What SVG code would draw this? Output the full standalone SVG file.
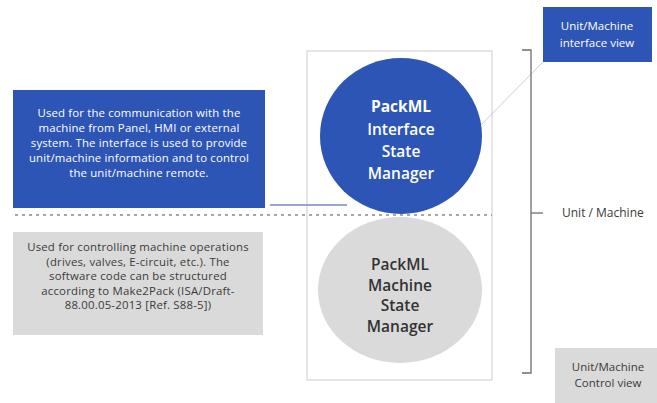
<svg xmlns="http://www.w3.org/2000/svg" width="657" height="403" viewBox="0 0 657 403">
<style>
text{font-family:"Open Sans","Liberation Sans",sans-serif;text-anchor:middle}
.bt{fill:#ffffff;font-size:11.4px;letter-spacing:0.15px}
.gt{fill:#3a3a3a;font-size:11.4px;letter-spacing:0.2px}
.ct{font-size:15.5px;font-weight:600}
.lbl{font-size:11.5px}
.blue{fill:#2d55b5}
.gray{fill:#dadada}
</style>
<rect width="657" height="403" fill="#ffffff"/>
<g id="frame">
<rect x="307" y="51" width="185" height="329" fill="none" stroke="#cccccc" stroke-width="1"/>
</g>
<g id="connectors">
<line x1="15" y1="215" x2="492" y2="215" stroke="#8a8a8a" stroke-width="1.6" stroke-dasharray="3,4"/>
<line x1="270" y1="205" x2="347" y2="205" stroke="#8085c4" stroke-width="1.5"/>
<line x1="543" y1="62" x2="476" y2="130" stroke="#c8cde0" stroke-width="1"/>
<path d="M522,50 H531 V373 H522" fill="none" stroke="#6e6e6e" stroke-width="1.3"/>
<line x1="531" y1="213" x2="543" y2="213" stroke="#6e6e6e" stroke-width="1.3"/>
</g>
<g id="interface-desc">
<rect class="blue" x="13" y="90" width="252" height="118"/>
<text class="bt" x="139" y="117">Used for the communication with the</text>
<text class="bt" x="139" y="132">machine from Panel, HMI or external</text>
<text class="bt" x="139" y="147">system. The interface is used to provide</text>
<text class="bt" x="139" y="162">unit/machine information and to control</text>
<text class="bt" x="139" y="177">the unit/machine remote.</text>
</g>
<g id="control-desc">
<rect class="gray" x="13" y="232" width="250" height="103"/>
<text class="gt" x="138" y="251">Used for controlling machine operations</text>
<text class="gt" x="138" y="265.5">(drives, valves, E-circuit, etc.). The</text>
<text class="gt" x="138" y="280">software code can be structured</text>
<text class="gt" x="138" y="294.5">according to Make2Pack (ISA/Draft-</text>
<text class="gt" x="138" y="309">88.00.05-2013 [Ref. S88-5])</text>
</g>
<g id="interface-sm">
<ellipse class="blue" cx="401" cy="136" rx="81" ry="78"/>
<text class="ct" fill="#ffffff" x="401" y="112" style="font-weight:bold">PackML</text>
<text class="ct" fill="#ffffff" x="401" y="135">Interface</text>
<text class="ct" fill="#ffffff" x="401" y="157">State</text>
<text class="ct" fill="#ffffff" x="401" y="179">Manager</text>
</g>
<g id="machine-sm">
<ellipse class="gray" cx="400" cy="290" rx="82" ry="73"/>
<text class="ct" fill="#333333" x="400" y="270">PackML</text>
<text class="ct" fill="#333333" x="400" y="291">Machine</text>
<text class="ct" fill="#333333" x="400" y="311">State</text>
<text class="ct" fill="#333333" x="400" y="332">Manager</text>
</g>
<g id="interface-view">
<rect class="blue" x="543" y="7" width="109" height="55"/>
<text class="lbl" fill="#ffffff" x="597" y="30">Unit/Machine</text>
<text class="lbl" fill="#ffffff" x="597" y="47">interface view</text>
</g>
<g id="unit-machine">
<text x="562" y="217" font-size="12" fill="#3a3a3a" style="text-anchor:start">Unit / Machine</text>
</g>
<g id="control-view">
<rect class="gray" x="555" y="348" width="102" height="55"/>
<text class="lbl" fill="#3a3a3a" x="608" y="371">Unit/Machine</text>
<text class="lbl" fill="#3a3a3a" x="608" y="387">Control view</text>
</g>
</svg>
